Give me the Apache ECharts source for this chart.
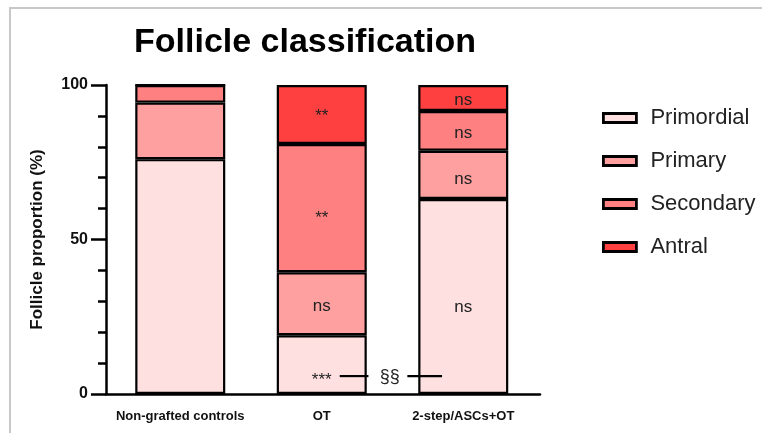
<!DOCTYPE html>
<html>
<head>
<meta charset="utf-8">
<script src="https://cdn.jsdelivr.net/npm/echarts@6/dist/echarts.min.js"></script>
<style>
  html, body { margin: 0; padding: 0; background: #fff; }
  #chart { width: 762px; height: 433px; }
</style>
</head>
<body>
<div id="chart"></div>
<script>
// Follicle stage proportions (%) per group
const groups = ['Non-grafted controls', 'OT', '2-step/ASCs+OT'];
const stageNames = ['Primordial', 'Primary', 'Secondary', 'Antral'];
const primordial = [76.0, 19.0, 63.1];
const primary = [18.3, 20.4, 15.6];
const secondary = [5.7, 41.5, 12.9];
const antral = [0, 19.1, 8.4];

// Significance marks printed inside each segment
const primordialSig = ['', '', 'ns'];
const primarySig = ['', 'ns', 'ns'];
const secondarySig = ['', '**', 'ns'];
const antralSig = ['', '**', 'ns'];

// OT vs controls (***) and OT vs 2-step (§§) marker near the base of the OT bar
const markerGroup = 1;
const markerValue = 5.8;
const markerLeft = '***';
const markerRight = '§§';

const yTicks = [0, 50, 100];

const FONT = '"Liberation Sans", Arial, Helvetica, sans-serif';
const stageColors = ['#FFE0E0', '#FFA0A0', '#FF8080', '#FF4040'];

const seriesValues = [primordial, primary, secondary, antral];
const seriesSig = [primordialSig, primarySig, secondarySig, antralSig];
// vertical nudges for a few labels so they sit where they are printed
const labelNudge = [[0, 0, 11], [0, 3, 4], [0, 10, 2], [0, 2, 2]];

const chart = echarts.init(document.getElementById('chart'), null, { renderer: 'canvas' });

const barSeries = stageNames.map((name, s) => ({
  name: name,
  type: 'bar',
  stack: 'total',
  xAxisIndex: 0,
  yAxisIndex: 0,
  barWidth: 90,
  itemStyle: { color: stageColors[s], borderColor: '#000', borderWidth: 2.2 },
  emphasis: { disabled: true },
  data: seriesValues[s].map((v, i) => ({
    value: v,
    label: {
      show: seriesSig[s][i] !== '',
      position: 'inside',
      offset: [0, labelNudge[s][i]],
      formatter: () => seriesSig[s][i],
      color: '#222',
      fontSize: 17,
      fontFamily: FONT
    }
  }))
}));

const markerSeries = {
  type: 'custom',
  xAxisIndex: 0,
  yAxisIndex: 0,
  silent: true,
  z: 10,
  data: [[markerGroup, markerValue]],
  renderItem: function (params, api) {
    const p = api.coord([api.value(0), api.value(1)]);
    const band = api.size([1, 0])[0];
    const x0 = p[0], y0 = p[1];
    const line = (a, b) => ({
      type: 'line',
      shape: { x1: x0 + a * band, y1: y0, x2: x0 + b * band, y2: y0 },
      style: { stroke: '#000', lineWidth: 2.2 }
    });
    return {
      type: 'group',
      children: [
        { type: 'text', style: { x: x0, y: y0 + 4, text: markerLeft, fontSize: 17, fontFamily: FONT, fill: '#222', align: 'center', verticalAlign: 'middle' } },
        line(0.127, 0.33),
        { type: 'text', style: { x: x0 + 0.48 * band, y: y0 + 1, text: markerRight, fontSize: 18, fontFamily: FONT, fill: '#222', align: 'center', verticalAlign: 'middle' } },
        line(0.605, 0.85)
      ]
    };
  }
};

const option = {
  animation: false,
  backgroundColor: '#fff',
  title: {
    text: 'Follicle classification',
    left: 129,
    top: 21,
    textStyle: { fontFamily: FONT, fontSize: 34, fontWeight: 'bold', color: '#000' }
  },
  legend: {
    orient: 'vertical',
    left: 597,
    top: 102,
    itemWidth: 33,
    itemHeight: 9,
    itemGap: 21,
    icon: 'rect',
    selectedMode: false,
    data: stageNames,
    itemStyle: { borderColor: '#000', borderWidth: 2.8 },
    textStyle: { fontFamily: FONT, fontSize: 22, color: '#222', padding: [0, 0, 0, 9] }
  },
  grid: [
    { left: 109.5, width: 424.5, top: 85, bottom: 39 },
    { left: 106, width: 434, top: 85, bottom: 39 }
  ],
  xAxis: [
    {
      type: 'category',
      gridIndex: 0,
      data: groups,
      axisLine: { show: false },
      axisTick: { show: false },
      axisLabel: { interval: 0, fontFamily: FONT, fontSize: 13, fontWeight: 'bold', color: '#111', margin: 16 }
    },
    {
      type: 'value',
      gridIndex: 1,
      min: 0,
      max: 1,
      axisLine: { show: true, lineStyle: { color: '#000', width: 2.5 } },
      axisTick: { show: false },
      axisLabel: { show: false },
      splitLine: { show: false }
    }
  ],
  yAxis: [
    {
      type: 'value',
      gridIndex: 0,
      min: yTicks[0],
      max: yTicks[yTicks.length - 1],
      interval: yTicks[1] - yTicks[0],
      offset: 3.5,
      name: 'Follicle proportion (%)',
      nameLocation: 'middle',
      nameGap: 60,
      nameTextStyle: { fontFamily: FONT, fontSize: 17, fontWeight: 'bold', color: '#111' },
      axisLine: { show: true, lineStyle: { color: '#000', width: 2.5 } },
      axisTick: { show: true, length: 15, lineStyle: { color: '#000', width: 2.5 } },
      minorTick: { show: true, splitNumber: 5, length: 8, lineStyle: { color: '#000', width: 2.5 } },
      axisLabel: { fontFamily: FONT, fontSize: 16, fontWeight: 'bold', color: '#111', margin: 18 },
      splitLine: { show: false }
    },
    {
      type: 'value',
      gridIndex: 1,
      show: false,
      min: 0,
      max: 1
    }
  ],
  graphic: [
    { type: 'line', shape: { x1: 9, y1: 8, x2: 762, y2: 8 }, style: { stroke: '#c8c8c8', lineWidth: 2 }, silent: true },
    { type: 'line', shape: { x1: 10, y1: 8, x2: 10, y2: 433 }, style: { stroke: '#c8c8c8', lineWidth: 2 }, silent: true }
  ],
  series: barSeries.concat([markerSeries])
};

chart.setOption(option);
</script>
</body>
</html>
